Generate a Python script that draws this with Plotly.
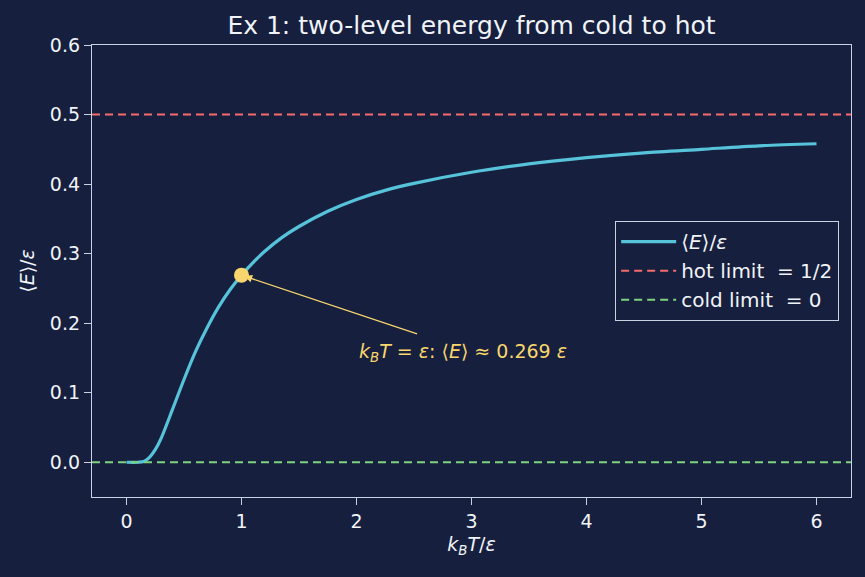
import plotly.graph_objects as go

T_vals = [0.0, 0.1, 0.15, 0.2, 0.25, 0.3, 0.4, 0.5, 0.6, 0.7, 0.8, 0.9, 1.0, 1.1, 1.2,
          1.35, 1.5, 1.75, 2.0, 2.25, 2.5, 3.0, 3.5, 4.0, 4.5, 5.0, 5.5, 6.0]
E_vals = [0.0, 0.0, 0.001, 0.007, 0.018, 0.034, 0.076, 0.119, 0.159, 0.193, 0.223, 0.248, 0.269, 0.287, 0.303,
          0.323, 0.339, 0.361, 0.378, 0.391, 0.401, 0.417, 0.429, 0.438, 0.445, 0.450, 0.455, 0.458]
hot_limit = 0.5
cold_limit = 0.0
mark_T = 1.0
mark_E = 0.269

BG = "#161f3d"
FG = "#f0f3f8"
AX = "#c9d1e2"
FONT = "DejaVu Sans"
FS = 19

fig = go.Figure()
fig.add_trace(go.Scatter(x=T_vals, y=E_vals, mode="lines", line=dict(color="#56c3da", width=3.2, shape="spline", smoothing=0.8),
                         name="⟨<i>E</i>⟩/<i>ε</i>"))
fig.add_trace(go.Scatter(x=[-0.3, 6.3], y=[hot_limit, hot_limit], mode="lines",
                         line=dict(color="#f56b6e", width=2, dash="8px,5px"), name="hot limit  = 1/2"))
fig.add_trace(go.Scatter(x=[-0.3, 6.3], y=[cold_limit, cold_limit], mode="lines",
                         line=dict(color="#7fd37f", width=2, dash="8px,5px"), name="cold limit  = 0"))
fig.add_trace(go.Scatter(x=[mark_T], y=[mark_E], mode="markers", marker=dict(color="#f8d66d", size=15),
                         showlegend=False))

fig.add_annotation(x=mark_T, y=mark_E, ax=2.54, ay=0.184, axref="x", ayref="y", xref="x", yref="y",
                   text="", showarrow=True, arrowhead=2, arrowsize=1.2, arrowwidth=1.3, arrowcolor="#f8d66d",
                   standoff=3)
fig.add_annotation(x=2.0, y=0.158, xref="x", yref="y", xanchor="left", yanchor="middle", showarrow=False,
                   text="<i>k</i><sub><i>B</i></sub><i>T</i> = <i>ε</i>: ⟨<i>E</i>⟩ ≈ 0.269 <i>ε</i>",
                   font=dict(color="#f8d66d", size=FS, family=FONT))

axis_common = dict(showline=True, linecolor=AX, linewidth=1.3, mirror=True, ticks="outside", ticklen=7,
                   tickcolor=AX, tickwidth=1.3, showgrid=False, zeroline=False,
                   tickfont=dict(color=FG, size=FS, family=FONT))
fig.update_xaxes(range=[-0.3, 6.3], tickvals=[0, 1, 2, 3, 4, 5, 6], **axis_common,
                 title=dict(text="<i>k</i><sub><i>B</i></sub><i>T</i>/<i>ε</i>", font=dict(color=FG, size=FS, family=FONT), standoff=6))
fig.update_yaxes(range=[-0.05, 0.6], tickvals=[0, 0.1, 0.2, 0.3, 0.4, 0.5, 0.6], tickformat=".1f", **axis_common,
                 title=dict(text="⟨<i>E</i>⟩/<i>ε</i>", font=dict(color=FG, size=FS, family=FONT), standoff=10))

fig.update_layout(
    width=865, height=577, paper_bgcolor=BG, plot_bgcolor=BG,
    margin=dict(l=92, r=14, t=45, b=80),
    title=dict(text="Ex 1: two-level energy from cold to hot", xref="paper", x=0.5, xanchor="center",
               y=0.956, yanchor="middle", font=dict(color=FG, size=25, family=FONT)),
    legend=dict(x=0.984, y=0.611, xanchor="right", yanchor="top", bgcolor=BG, bordercolor=AX, borderwidth=1.3,
                font=dict(color=FG, size=20, family=FONT), itemwidth=55),
    font=dict(family=FONT, color=FG),
)
fig.write_html("out.html")
